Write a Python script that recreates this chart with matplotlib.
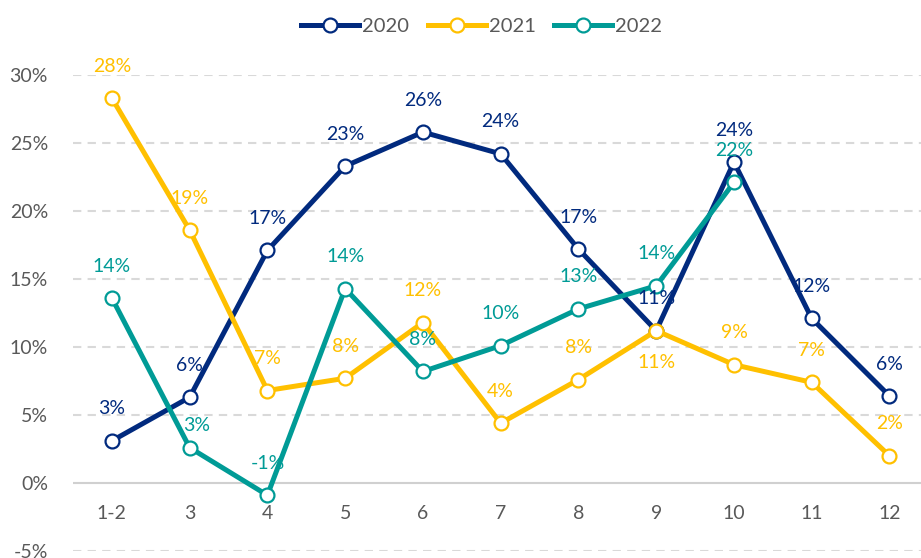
import matplotlib.pyplot as plt
from matplotlib.ticker import FuncFormatter

months = ["1-2", "3", "4", "5", "6", "7", "8", "9", "10", "11", "12"]
v2020 = [3.1, 6.3, 17.1, 23.3, 25.8, 24.2, 17.2, 11.2, 23.6, 12.1, 6.4]
v2021 = [28.3, 18.6, 6.8, 7.7, 11.8, 4.4, 7.6, 11.2, 8.7, 7.4, 2.0]
v2022 = [13.6, 2.6, -0.9, 14.3, 8.2, 10.1, 12.8, 14.5, 22.1]

# label placement: 1 = above point, -1 = below point
pos2021 = [1, 1, 1, 1, 1, 1, 1, -1, 1, 1, 1]
pos2022 = [1, 0.7, 1, 1, 1, 1, 1, 1, 1]

navy = "#012A7E"
gold = "#FFC000"
teal = "#009B96"
grey = "#595959"

plt.rcParams["font.family"] = ["Lato", "DejaVu Sans"]

fig = plt.figure(figsize=(9.21, 5.58), dpi=100)
ax = fig.add_axes([73 / 921, 7 / 558, 1 - 73 / 921 + 0.008, 476 / 558])

x = list(range(len(months)))
series = [
    ("2020", v2020, navy, [1] * len(v2020)),
    ("2021", v2021, gold, pos2021),
    ("2022", v2022, teal, pos2022),
]

for name, vals, col, pos in series:
    xs = x[:len(vals)]
    ax.plot(xs, vals, color=col, lw=3.6, marker="o", ms=10, mfc="white",
            mec=col, mew=1.6, label=name, clip_on=False, zorder=3)
    for xi, v, p in zip(xs, vals, pos):
        dx = 5 if 0 < p < 1 else 0
        ax.annotate(f"{round(v):.0f}%", (xi, v), xytext=(dx, 23 * p),
                    textcoords="offset points", ha="center", va="center",
                    color=col, fontsize=14, zorder=4)

ax.set_ylim(-5, 30)
ax.set_xlim(-0.5, 10.5)
ax.set_yticks(range(-5, 31, 5))
ax.yaxis.set_major_formatter(FuncFormatter(lambda v, _: f"{v:.0f}%"))
ax.set_xticks(x)
ax.set_xticklabels(months)
ax.spines["bottom"].set_position(("data", 0))

for yv in range(-5, 31, 5):
    if yv == 0:
        ax.axhline(0, color="#D0D0D0", lw=1.5, zorder=1)
    else:
        ax.axhline(yv, color="#D9D9D9", lw=1.5, ls=(0, (4, 3)), zorder=1)

for s in ax.spines.values():
    s.set_visible(False)
ax.tick_params(axis="both", length=0, labelsize=14, labelcolor=grey)
ax.tick_params(axis="y", pad=18)
ax.tick_params(axis="x", pad=16)

fig.legend(loc="upper center", bbox_to_anchor=(0.523, 1.0), ncol=3,
           frameon=False, fontsize=14.5, handlelength=2.9,
           handletextpad=0.15, columnspacing=0.9, labelcolor=grey)

plt.savefig("out.png", dpi=100)
